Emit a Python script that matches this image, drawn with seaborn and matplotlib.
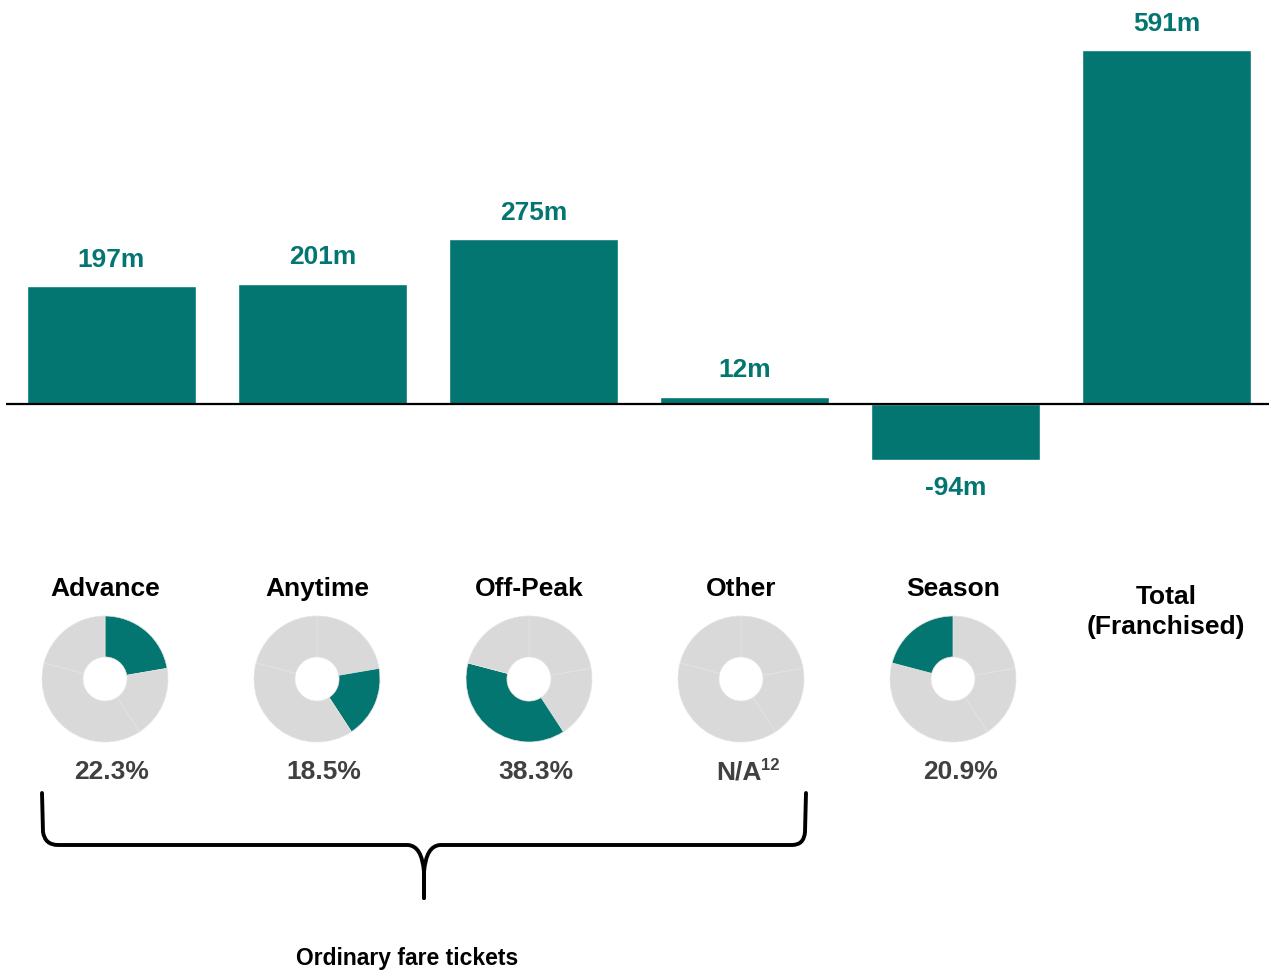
import matplotlib
matplotlib.use("Agg")
import matplotlib.pyplot as plt
import seaborn as sns
import pandas as pd
from matplotlib.path import Path
from matplotlib.patches import PathPatch

# bar data (£m change)
categories = ["Advance", "Anytime", "Off-Peak", "Other", "Season", "Total (Franchised)"]
values = [197, 201, 275, 12, -94, 591]

# share of journeys per ticket type (donuts)
ticket_types = ["Advance", "Anytime", "Off-Peak", "Other", "Season"]
shares = [22.3, 18.5, 38.3, 0.0, 20.9]
share_labels = ["22.3%", "18.5%", "38.3%", "N/A", "20.9%"]

TEAL = "#037672"
GREY = "#d9d9d9"
DARK = "#404040"

W, H = 1269, 971
sns.set_style("white")
plt.rcParams["font.family"] = ["Liberation Sans", "DejaVu Sans"]

fig = plt.figure(figsize=(W / 100, H / 100), dpi=100)

# canvas in pixel coords for free text and the brace
cax = fig.add_axes([0, 0, 1, 1])
cax.set_xlim(0, W)
cax.set_ylim(H, 0)
cax.axis("off")

# bars
ax = fig.add_axes([6 / W, 1 - 500 / H, 1266 / W, 480 / H])
df = pd.DataFrame({"category": categories, "value": values})
sns.barplot(data=df, x="category", y="value", color=TEAL, saturation=1,
            width=0.8, ax=ax)
ax.set_xlim(-0.5, 5.5)
ax.set_ylim(-160.3, 641)
ax.axhline(0, color="black", lw=1.6, zorder=5)
for i, v in enumerate(values):
    off = 19 if v >= 0 else -20
    ax.annotate(f"{v}m", (i, v), xytext=(0, off), textcoords="offset points",
                ha="center", va="center", fontsize=19, fontweight="bold",
                color=TEAL, annotation_clip=False)
ax.axis("off")

# donuts
cy = 679
r = 63
for i, (name, s, lab) in enumerate(zip(ticket_types, shares, share_labels)):
    cx = 105 + 212 * i
    dax = fig.add_axes([(cx - r) / W, 1 - (cy + r) / H, 2 * r / W, 2 * r / H])
    cols = [TEAL if (j == i and s > 0) else GREY for j in range(len(shares))]
    dax.pie(shares, startangle=90, counterclock=False, colors=cols, radius=1,
            wedgeprops=dict(width=0.65, edgecolor="#e4e4e4", linewidth=0.5))
    dax.set_xlim(-1, 1)
    dax.set_ylim(-1, 1)
    dax.set_aspect("equal")
    cax.text(cx, 589, name, ha="center", va="center", fontsize=19,
             fontweight="bold", color="black")
    if lab == "N/A":
        cax.text(cx + 21, 772, "N/A", ha="right", va="center", fontsize=19,
                 fontweight="bold", color=DARK)
        cax.text(cx + 20, 766, "12", ha="left", va="center", fontsize=12,
                 fontweight="bold", color=DARK)
    else:
        cax.text(cx + 7, 772, lab, ha="center", va="center", fontsize=19,
                 fontweight="bold", color=DARK)

cax.text(1166, 612, "Total\n(Franchised)", ha="center", va="center",
         fontsize=19, fontweight="bold", color="black", linespacing=1.3)

# brace under the ordinary fare tickets
verts = [(42, 793), (43, 832), (45, 845), (58, 845), (408, 845), (422, 846),
         (424, 872), (424, 898),
         (424, 898), (424, 872), (426, 846), (440, 845), (792, 845),
         (804, 845), (805, 832), (806, 793)]
codes = [Path.MOVETO, Path.LINETO, Path.CURVE3, Path.CURVE3, Path.LINETO,
         Path.CURVE3, Path.CURVE3, Path.LINETO,
         Path.MOVETO, Path.LINETO, Path.CURVE3, Path.CURVE3, Path.LINETO,
         Path.CURVE3, Path.CURVE3, Path.LINETO]
cax.add_patch(PathPatch(Path(verts, codes), fill=False, lw=2.8,
                        edgecolor="black", capstyle="round"))
cax.text(407, 958, "Ordinary fare tickets", ha="center", va="center",
         fontsize=16.5, fontweight="bold", color="black")

fig.savefig("out.png", dpi=100)
plt.close()
